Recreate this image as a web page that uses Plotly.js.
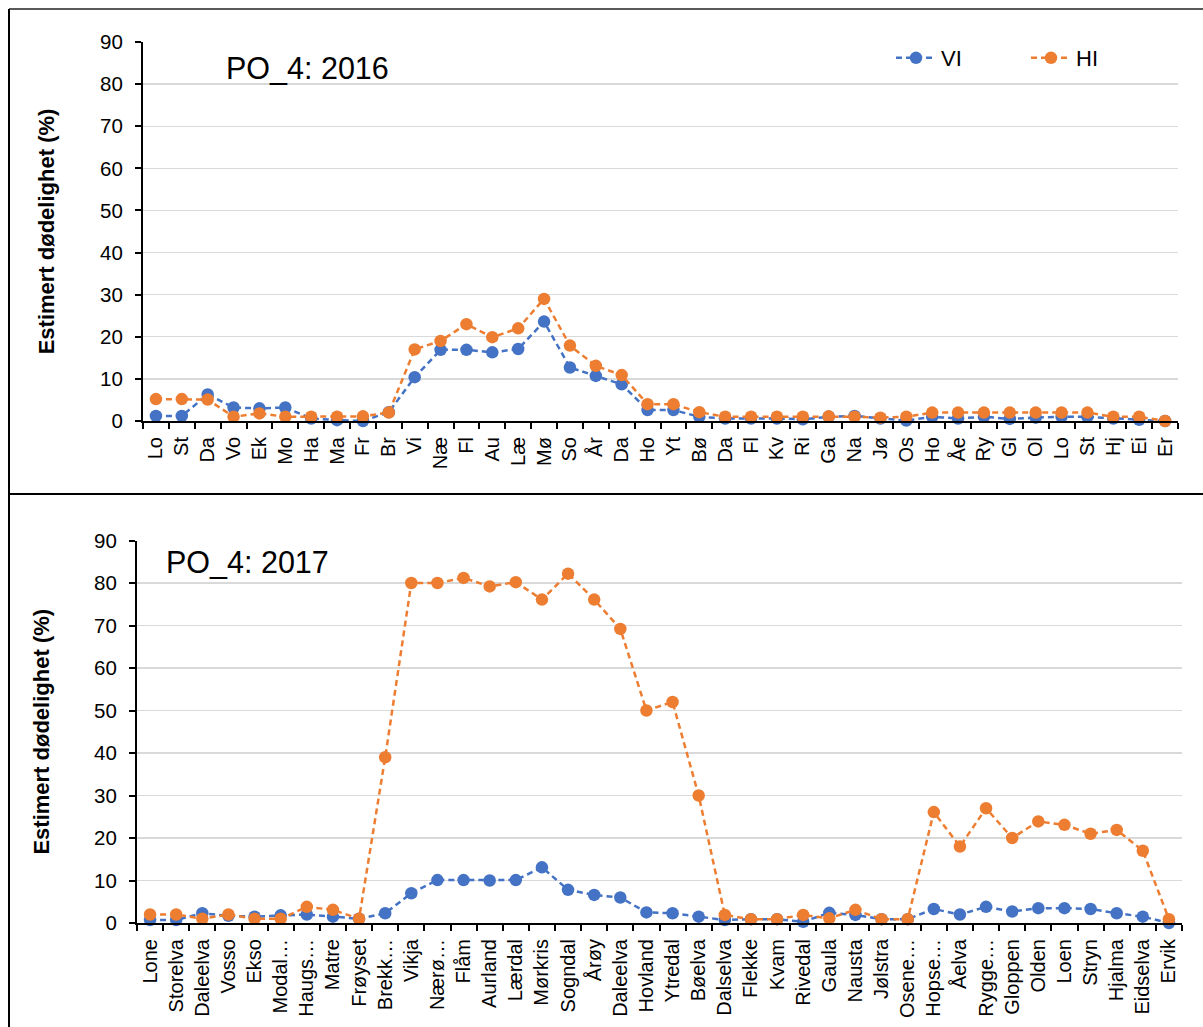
<!DOCTYPE html>
<html>
<head>
<meta charset="utf-8">
<script src="https://cdn.plot.ly/plotly-3.0.1.min.js"></script>
<style>html,body{margin:0;padding:0;background:#fff;overflow:hidden;}#chart{width:1203px;height:1027px;}</style>
</head>
<body>
<div id="chart"></div>
<script>
// ---- data ----
const labels2016 = ['Lo','St','Da','Vo','Ek','Mo','Ha','Ma','Fr','Br','Vi','Næ','Fl','Au','Læ','Mø','So','År','Da','Ho','Yt','Bø','Da','Fl','Kv','Ri','Ga','Na','Jø','Os','Ho','Åe','Ry','Gl','Ol','Lo','St','Hj','Ei','Er'];
const vi2016 = [1.2,1.2,6.3,3.2,3.0,3.2,0.6,0.2,0,2.1, 10.4,16.9,16.9,16.3,17.1,23.6,12.7,10.7,8.7,2.6, 2.6,1.0,0.6,0.6,0.6,0.4,1.0,1.2,0.6,0.1, 1.0,0.6,1.0,0.5,0.8,1.0,1.0,0.6,0.3,0];
const hi2016 = [5.2,5.2,5.1,1.0,1.8,1.0,1.0,1.0,1.1,2.0, 17.0,19.0,23.0,19.9,22.0,29.0,17.9,13.1,10.9,4.0, 4.0,2.1,1.0,1.0,1.0,1.0,1.1,1.0,0.8,1.0, 2.0,2.0,2.0,2.0,2.0,2.0,2.0,1.0,1.0,0];

const labels2017 = ['Lone','Storelva','Daleelva','Vosso','Ekso','Modal…','Haugs…','Matre','Frøyset','Brekk…','Vikja','Nærø…','Flåm','Aurland','Lærdal','Mørkris','Sogndal','Årøy','Daleelva','Hovland','Ytredal','Bøelva','Dalselva','Flekke','Kvam','Rivedal','Gaula','Nausta','Jølstra','Osene…','Hopse…','Åelva','Rygge…','Gloppen','Olden','Loen','Stryn','Hjalma','Eidselva','Ervik'];
const vi2017 = [0.7,0.7,2.3,1.7,1.5,1.8,2.0,1.5,1.0,2.3, 7.0,10.1,10.1,10.0,10.1,13.1,7.8,6.6,6.0,2.5, 2.3,1.5,0.7,0.9,0.9,0.3,2.4,1.9,0.9,0.9, 3.3,2.0,3.8,2.7,3.5,3.5,3.3,2.3,1.5,0];
const hi2017 = [2.0,2.0,1.0,2.0,1.0,1.0,3.8,3.1,1.0,39.0, 80.0,80.0,81.2,79.2,80.2,76.1,82.2,76.1,69.2,50.0, 52.0,30.0,1.9,0.9,0.9,1.9,1.1,3.1,0.9,0.9, 26.1,18.0,27.0,20.0,23.9,23.1,21.0,21.9,17.0,0.9];

const seriesNames = ['VI','HI'];
const panelTitles = ['PO_4: 2016','PO_4: 2017'];
const yTitle = 'Estimert dødelighet (%)';

// ---- styling ----
const W = 1203, H = 1027;
const FONT = 'Liberation Sans, Arial, sans-serif';
const colors = {VI:'#4472C4', HI:'#ED7D31'};
const px = v => v / W;
const py = v => 1 - v / H;

const idx16 = labels2016.map((_, i) => i);
const idx17 = labels2017.map((_, i) => i);
const bounds16 = [...idx16.map(i => i - 0.5), labels2016.length - 0.5];
const bounds17 = [...idx17.map(i => i - 0.5), labels2017.length - 0.5];

function tr(x, y, name, xa, ya, show) {
  return {
    x: x, y: y, name: name, xaxis: xa, yaxis: ya, type: 'scatter', mode: 'lines+markers',
    showlegend: show, cliponaxis: false,
    line: {color: colors[name], width: 2.5, dash: '6px,4px'},
    marker: {color: colors[name], size: 12.5}
  };
}

const data = [
  tr(idx16, vi2016, seriesNames[0], 'x', 'y', true),
  tr(idx16, hi2016, seriesNames[1], 'x', 'y', true),
  tr(idx17, vi2017, seriesNames[0], 'x2', 'y2', false),
  tr(idx17, hi2017, seriesNames[1], 'x2', 'y2', false)
];

function xMain(dom, anchor, labels, idx, bounds) {
  return {
    domain: dom, anchor: anchor, range: [-0.5, labels.length - 0.5],
    tickmode: 'array', tickvals: idx, ticktext: labels, tickangle: -90,
    ticks: 'outside', ticklen: 6, tickcolor: 'rgba(0,0,0,0)',
    tickfont: {family: FONT, size: 20, color: '#000'},
    showline: true, linecolor: '#000', linewidth: 2,
    showgrid: false, zeroline: false, fixedrange: true, automargin: false,
    minor: {tickmode: 'array', tickvals: bounds, ticks: 'outside', ticklen: 6, tickwidth: 2, tickcolor: '#000', showgrid: false}
  };
}
function xOverlay(dom, anchor, over, labels, bounds) {
  return {
    domain: dom, anchor: anchor, overlaying: over, range: [-0.5, labels.length - 0.5],
    tickmode: 'array', tickvals: bounds, ticks: 'inside', ticklen: 6, tickwidth: 2, tickcolor: '#000',
    showticklabels: false, showline: false, showgrid: false, zeroline: false, fixedrange: true
  };
}
function yAx(dom, anchor, standoff) {
  return {
    domain: dom, anchor: anchor, range: [0, 90], dtick: 10, tick0: 0,
    ticks: 'outside', ticklen: 6, tickwidth: 2, tickcolor: '#000',
    ticklabelstandoff: 8,
    tickfont: {family: FONT, size: 20.5, color: '#000'},
    showline: true, linecolor: '#000', linewidth: 2,
    showgrid: true, gridcolor: '#d9d9d9', gridwidth: 1.3, zeroline: false, fixedrange: true, automargin: false,
    title: {text: yTitle, standoff: standoff, font: {family: FONT, size: 22, color: '#000', weight: 'bold'}}
  };
}

const domX1 = [px(143), px(1178)], domY1 = [py(421), py(42)];
const domX2 = [px(137), px(1182)], domY2 = [py(923), py(540.5)];

const layout = {
  width: W, height: H, margin: {l: 0, r: 0, t: 0, b: 0, autoexpand: false},
  paper_bgcolor: '#fff', plot_bgcolor: 'rgba(0,0,0,0)',
  font: {family: FONT, color: '#000'},
  xaxis: xMain(domX1, 'y', labels2016, idx16, bounds16),
  xaxis2: xMain(domX2, 'y2', labels2017, idx17, bounds17),
  xaxis3: xOverlay(domX1, 'y', 'x', labels2016, bounds16),
  xaxis4: xOverlay(domX2, 'y2', 'x2', labels2017, bounds17),
  yaxis: yAx(domY1, 'x', 39),
  yaxis2: yAx(domY2, 'x2', 38),
  showlegend: true,
  legend: {orientation: 'h', x: px(891), xanchor: 'left', y: py(58), yanchor: 'middle',
           font: {family: FONT, size: 22, color: '#000'}, bgcolor: 'rgba(0,0,0,0)',
           entrywidth: 80, itemwidth: 40, tracegroupgap: 0},
  annotations: [
    {text: panelTitles[0], xref: 'paper', yref: 'paper', x: px(224), y: py(68), xanchor: 'left', yanchor: 'middle',
     showarrow: false, font: {family: FONT, size: 30.5, color: '#000'}},
    {text: panelTitles[1], xref: 'paper', yref: 'paper', x: px(164), y: py(562), xanchor: 'left', yanchor: 'middle',
     showarrow: false, font: {family: FONT, size: 30.5, color: '#000'}}
  ],
  shapes: [
    {type: 'line', xref: 'paper', yref: 'paper', x0: px(9), x1: 1, y0: py(9), y1: py(9), line: {color: '#222', width: 1.5}},
    {type: 'line', xref: 'paper', yref: 'paper', x0: px(9), x1: px(9), y0: py(9), y1: 0, line: {color: '#000', width: 2}},
    {type: 'line', xref: 'paper', yref: 'paper', x0: px(9), x1: 1, y0: py(494), y1: py(494), line: {color: '#000', width: 2}}
  ]
};

Plotly.newPlot('chart', data, layout, {displayModeBar: false, staticPlot: true});
</script>
</body>
</html>
